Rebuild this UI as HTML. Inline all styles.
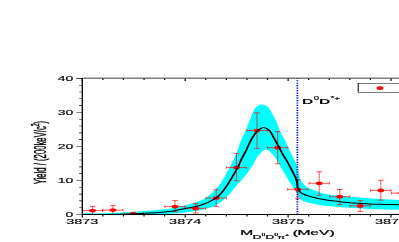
<!DOCTYPE html>
<html><head><meta charset="utf-8"><title>plot</title>
<style>
html,body{margin:0;padding:0;background:#fff;}
body{width:399px;height:242px;overflow:hidden;}
svg{display:block;will-change:transform;}
text{font-family:"Liberation Sans",sans-serif;fill:#000;}
</style></head><body>
<svg width="399" height="242" viewBox="0 0 399 242">
<rect width="399" height="242" fill="#fff"/>
<clipPath id="cp"><rect x="82.3" y="156.8" width="330" height="272.2"/></clipPath>
<g transform="scale(1,0.5)">
<g clip-path="url(#cp)">
<path d="M82.00,426.40 C86.67,426.30 101.50,426.23 110.00,425.80 C118.50,425.37 126.33,424.57 133.00,423.80 C139.67,423.03 143.83,422.37 150.00,421.20 C156.17,420.03 164.17,418.53 170.00,416.80 C175.83,415.07 180.00,413.35 185.00,410.80 C190.00,408.25 196.23,404.44 200.00,401.48 C203.77,398.52 205.08,396.62 207.60,393.04 C210.12,389.46 213.10,383.94 215.10,380.00 C217.10,376.06 218.37,372.67 219.60,369.40 C220.83,366.13 220.63,366.90 222.50,360.40 C224.37,353.90 228.28,340.40 230.80,330.40 C233.32,320.40 235.90,308.73 237.60,300.40 C239.30,292.07 239.68,286.73 241.00,280.40 C242.32,274.07 244.37,267.40 245.50,262.40 C246.63,257.40 246.92,254.87 247.80,250.40 C248.68,245.93 249.80,240.60 250.80,235.60 C251.80,230.60 252.77,224.27 253.80,220.40 C254.83,216.53 255.63,214.30 257.00,212.40 C258.37,210.50 260.33,209.00 262.00,209.00 C263.67,209.00 265.62,210.50 267.00,212.40 C268.38,214.30 269.07,216.53 270.30,220.40 C271.53,224.27 273.13,230.60 274.40,235.60 C275.67,240.60 276.97,245.93 277.90,250.40 C278.83,254.87 278.82,257.40 280.00,262.40 C281.18,267.40 283.42,274.07 285.00,280.40 C286.58,286.73 288.00,294.07 289.50,300.40 C291.00,306.73 292.78,313.40 294.00,318.40 C295.22,323.40 296.07,326.10 296.80,330.40 C297.53,334.70 297.77,339.37 298.40,344.20 C299.03,349.03 299.73,355.33 300.60,359.40 C301.47,363.47 302.43,366.03 303.60,368.60 C304.77,371.17 305.68,372.70 307.60,374.80 C309.52,376.90 312.60,379.24 315.10,381.17 C317.60,383.11 320.12,385.03 322.60,386.40 C325.08,387.77 327.27,388.63 330.00,389.40 C332.73,390.17 335.00,390.23 339.00,391.00 C343.00,391.77 349.00,393.10 354.00,394.00 C359.00,394.90 364.00,395.67 369.00,396.40 C374.00,397.13 378.83,397.80 384.00,398.40 C389.17,399.00 397.33,399.73 400.00,400.00 L400.00,419.60 C397.33,419.50 389.17,419.30 384.00,419.00 C378.83,418.70 374.00,418.27 369.00,417.80 C364.00,417.33 359.00,416.84 354.00,416.20 C349.00,415.56 343.00,414.54 339.00,413.96 C335.00,413.38 332.73,413.23 330.00,412.70 C327.27,412.17 325.08,411.62 322.60,410.80 C320.12,409.98 317.60,408.80 315.10,407.80 C312.60,406.80 309.60,405.80 307.60,404.80 C305.60,403.80 304.48,403.30 303.10,401.80 C301.72,400.30 300.43,398.57 299.30,395.80 C298.17,393.03 297.42,388.97 296.30,385.20 C295.18,381.43 293.85,377.20 292.60,373.20 C291.35,369.20 290.18,365.71 288.80,361.20 C287.42,356.69 285.80,351.21 284.30,346.14 C282.80,341.07 281.30,335.90 279.80,330.78 C278.30,325.66 276.77,319.65 275.30,315.42 C273.83,311.19 272.05,307.64 271.00,305.40 C269.95,303.16 269.87,303.07 269.00,302.00 C268.13,300.93 266.88,299.00 265.80,299.00 C264.72,299.00 263.47,300.50 262.50,302.00 C261.53,303.50 260.92,305.93 260.00,308.00 C259.08,310.07 258.22,310.67 257.00,314.40 C255.78,318.13 254.25,325.23 252.70,330.40 C251.15,335.57 249.58,340.36 247.70,345.40 C245.82,350.44 243.42,356.04 241.40,360.65 C239.38,365.26 237.50,368.66 235.60,373.06 C233.70,377.46 232.17,382.43 230.00,387.05 C227.83,391.67 225.10,396.74 222.60,400.80 C220.10,404.86 218.77,408.13 215.00,411.40 C211.23,414.67 205.00,418.13 200.00,420.40 C195.00,422.67 190.00,423.77 185.00,425.00 C180.00,426.23 175.83,427.13 170.00,427.80 C164.17,428.47 164.67,428.60 150.00,429.00 C135.33,429.40 93.33,430.00 82.00,430.20 Z" fill="#00ffff"/>
</g>
<path d="M297.4,156.8 V429.0" stroke="#0000ff" stroke-width="1.8" stroke-dasharray="2.4,2.54" stroke-dashoffset="1.4" fill="none"/>
<g clip-path="url(#cp)">
<g id="err" stroke="#ff0000" stroke-width="0.90" fill="none">
<path d="M82.35,421.20 H102.65 M92.50,413.00 V429.00 M82.35,418.50 v5.4 M102.65,418.50 v5.4 M89.70,413.00 h5.6 "/>
<path d="M102.75,420.20 H123.05 M112.90,411.20 V429.00 M102.75,417.50 v5.4 M123.05,417.50 v5.4 M110.10,411.20 h5.6 "/>
<path d="M123.25,427.80 H143.55 M133.40,424.60 V429.00 M123.25,425.10 v5.4 M143.55,425.10 v5.4 M130.60,424.60 h5.6 "/>
<path d="M164.85,413.20 H185.15 M175.00,401.20 V423.80 M164.85,410.50 v5.4 M185.15,410.50 v5.4 M172.20,401.20 h5.6 M172.20,423.80 h5.6"/>
<path d="M185.45,416.80 H205.75 M195.60,407.20 V426.20 M185.45,414.10 v5.4 M205.75,414.10 v5.4 M192.80,407.20 h5.6 M192.80,426.20 h5.6"/>
<path d="M206.05,396.00 H226.35 M216.20,379.60 V413.20 M206.05,393.30 v5.4 M226.35,393.30 v5.4 M213.40,379.60 h5.6 M213.40,413.20 h5.6"/>
<path d="M226.35,335.20 H246.65 M236.50,307.20 V361.60 M226.35,332.50 v5.4 M246.65,332.50 v5.4 M233.70,307.20 h5.6 M233.70,361.60 h5.6"/>
<path d="M246.85,261.00 H267.15 M257.00,225.60 V296.80 M246.85,258.30 v5.4 M267.15,258.30 v5.4 M254.20,225.60 h5.6 M254.20,296.80 h5.6"/>
<path d="M267.55,295.40 H287.85 M277.70,263.20 V327.60 M267.55,292.70 v5.4 M287.85,292.70 v5.4 M274.90,263.20 h5.6 M274.90,327.60 h5.6"/>
<path d="M287.65,378.60 H307.95 M297.80,359.80 V397.20 M287.65,375.90 v5.4 M307.95,375.90 v5.4 M295.00,359.80 h5.6 M295.00,397.20 h5.6"/>
<path d="M309.05,366.60 H329.35 M319.20,343.60 V390.60 M309.05,363.90 v5.4 M329.35,363.90 v5.4 M316.40,343.60 h5.6 M316.40,390.60 h5.6"/>
<path d="M329.60,393.40 H349.90 M339.75,379.00 V409.20 M329.60,390.70 v5.4 M349.90,390.70 v5.4 M336.95,379.00 h5.6 M336.95,409.20 h5.6"/>
<path d="M350.05,411.80 H370.35 M360.20,401.20 V422.80 M350.05,409.10 v5.4 M370.35,409.10 v5.4 M357.40,401.20 h5.6 M357.40,422.80 h5.6"/>
<path d="M370.65,380.80 H390.95 M380.80,360.60 V400.20 M370.65,378.10 v5.4 M390.95,378.10 v5.4 M378.00,360.60 h5.6 M378.00,400.20 h5.6"/>
<path d="M391.35,386.20 H411.65 M401.50,372.60 V400.60 M391.35,383.50 v5.4 M411.65,383.50 v5.4 M398.70,372.60 h5.6 M398.70,400.60 h5.6"/>
</g>
<g id="mk" fill="#ff0000">
<ellipse cx="92.50" cy="421.20" rx="3.4" ry="3.7"/>
<ellipse cx="112.90" cy="420.20" rx="3.4" ry="3.7"/>
<ellipse cx="133.40" cy="427.80" rx="3.4" ry="3.7"/>
<ellipse cx="175.00" cy="413.20" rx="3.4" ry="3.7"/>
<ellipse cx="195.60" cy="416.80" rx="3.4" ry="3.7"/>
<ellipse cx="216.20" cy="396.00" rx="3.4" ry="3.7"/>
<ellipse cx="236.50" cy="335.20" rx="3.4" ry="3.7"/>
<ellipse cx="257.00" cy="261.00" rx="3.4" ry="3.7"/>
<ellipse cx="277.70" cy="295.40" rx="3.4" ry="3.7"/>
<ellipse cx="297.80" cy="378.60" rx="3.4" ry="3.7"/>
<ellipse cx="319.20" cy="366.60" rx="3.4" ry="3.7"/>
<ellipse cx="339.75" cy="393.40" rx="3.4" ry="3.7"/>
<ellipse cx="360.20" cy="411.80" rx="3.4" ry="3.7"/>
<ellipse cx="380.80" cy="380.80" rx="3.4" ry="3.7"/>
<ellipse cx="401.50" cy="386.20" rx="3.4" ry="3.7"/>
</g>
<path d="M82.00,429.40 C86.67,429.33 101.50,429.27 110.00,429.00 C118.50,428.73 126.33,428.30 133.00,427.80 C139.67,427.30 143.83,426.80 150.00,426.00 C156.17,425.20 164.17,424.50 170.00,423.00 C175.83,421.50 180.00,419.00 185.00,417.00 C190.00,415.00 195.00,414.27 200.00,411.00 C205.00,407.73 211.30,401.90 215.00,397.40 C218.70,392.90 219.83,389.53 222.20,384.00 C224.57,378.47 226.63,372.30 229.20,364.19 C231.77,356.08 235.57,342.97 237.60,335.37 C239.63,327.77 239.95,324.41 241.40,318.58 C242.85,312.75 245.12,305.16 246.30,300.40 C247.48,295.64 247.38,294.50 248.50,290.00 C249.62,285.50 251.48,278.17 253.00,273.40 C254.52,268.63 255.83,264.50 257.60,261.40 C259.37,258.30 261.60,254.80 263.60,254.80 C265.60,254.80 267.87,257.80 269.60,261.40 C271.33,265.00 272.50,271.13 274.00,276.40 C275.50,281.67 277.10,287.47 278.60,293.00 C280.10,298.53 281.80,305.37 283.00,309.60 C284.20,313.83 284.51,313.93 285.80,318.40 C287.09,322.87 289.17,330.40 290.75,336.40 C292.33,342.40 294.26,349.87 295.30,354.40 C296.34,358.93 296.63,360.33 297.00,363.60 C297.37,366.87 297.42,372.27 297.50,374.00 L297.50,374.00 C297.92,375.63 299.00,381.40 300.00,383.80 C301.00,386.20 302.23,387.13 303.50,388.40 C304.77,389.67 305.67,390.20 307.60,391.40 C309.53,392.60 312.60,394.40 315.10,395.60 C317.60,396.80 320.12,397.70 322.60,398.60 C325.08,399.50 327.27,400.23 330.00,401.00 C332.73,401.77 335.00,402.33 339.00,403.20 C343.00,404.07 349.00,405.40 354.00,406.20 C359.00,407.00 364.00,407.57 369.00,408.00 C374.00,408.43 378.83,408.57 384.00,408.80 C389.17,409.03 397.33,409.30 400.00,409.40" fill="none" stroke="#000" stroke-width="2.0" stroke-linejoin="round"/>
</g>
<!-- frame -->
<path d="M82.3,429.0 V156.20000000000002" fill="none" stroke="#000" stroke-width="1.35"/>
<path d="M81.7,156.3 H400" fill="none" stroke="#000" stroke-width="1.5"/>
<path d="M82.3,429.0 H400" fill="none" stroke="#000" stroke-width="1.8"/>
<path d="M82.30,429.00 h-6.00 M82.30,415.39 h-3.20 M82.30,401.78 h-3.20 M82.30,388.17 h-3.20 M82.30,374.56 h-3.20 M82.30,360.95 h-6.00 M82.30,347.34 h-3.20 M82.30,333.73 h-3.20 M82.30,320.12 h-3.20 M82.30,306.51 h-3.20 M82.30,292.90 h-6.00 M82.30,279.29 h-3.20 M82.30,265.68 h-3.20 M82.30,252.07 h-3.20 M82.30,238.46 h-3.20 M82.30,224.85 h-6.00 M82.30,211.24 h-3.20 M82.30,197.63 h-3.20 M82.30,184.02 h-3.20 M82.30,170.41 h-3.20 M82.30,156.80 h-6.00 M82.30,429.00 v6.00 M82.30,156.80 v5.40 M102.88,429.00 v3.80 M102.88,156.80 v3.20 M123.46,429.00 v3.80 M123.46,156.80 v3.20 M144.04,429.00 v3.80 M144.04,156.80 v3.20 M164.62,429.00 v3.80 M164.62,156.80 v3.20 M185.20,429.00 v6.00 M185.20,156.80 v5.40 M205.78,429.00 v3.80 M205.78,156.80 v3.20 M226.36,429.00 v3.80 M226.36,156.80 v3.20 M246.94,429.00 v3.80 M246.94,156.80 v3.20 M267.52,429.00 v3.80 M267.52,156.80 v3.20 M288.10,429.00 v6.00 M288.10,156.80 v5.40 M308.68,429.00 v3.80 M308.68,156.80 v3.20 M329.26,429.00 v3.80 M329.26,156.80 v3.20 M349.84,429.00 v3.80 M349.84,156.80 v3.20 M370.42,429.00 v3.80 M370.42,156.80 v3.20 M391.00,429.00 v6.00 M391.00,156.80 v5.40" fill="none" stroke="#000" stroke-width="1.2"/>
<!-- legend -->
<rect x="358.2" y="166.6" width="60" height="18.4" fill="#fff" stroke="#000" stroke-width="1.0"/>
<ellipse cx="380" cy="176.2" rx="3.45" ry="3.8" fill="#ff0000"/>
</g>
<!-- tick labels -->
<g font-size="14" stroke="#000" stroke-width="0.3">
<text transform="translate(73.2,80.70) scale(1,0.48)" text-anchor="end">40</text>
<text transform="translate(73.2,114.73) scale(1,0.48)" text-anchor="end">30</text>
<text transform="translate(73.2,148.75) scale(1,0.48)" text-anchor="end">20</text>
<text transform="translate(73.2,182.78) scale(1,0.48)" text-anchor="end">10</text>
<text transform="translate(73.2,216.80) scale(1,0.48)" text-anchor="end">0</text>
<text transform="translate(82.30,224.2) scale(1.035,0.48)" text-anchor="middle">3873</text>
<text transform="translate(185.20,224.2) scale(1.035,0.48)" text-anchor="middle">3874</text>
<text transform="translate(288.10,224.2) scale(1.035,0.48)" text-anchor="middle">3875</text>
<text transform="translate(391.00,224.2) scale(1.035,0.48)" text-anchor="middle">3876</text>
</g>
<!-- x title -->
<text transform="translate(240.2,235.4) scale(1,0.45)" font-size="15.6" stroke="#000" stroke-width="0.45">M<tspan font-size="12" dy="7.4" dx="-0.3">D<tspan font-size="6.2" dy="-6.2" dx="0.3">0</tspan><tspan dy="6.2" dx="0.2">D</tspan><tspan font-size="6.2" dy="-6.2" dx="0.3">0</tspan><tspan dy="6.2" dx="-0.3" font-size="11">&#960;</tspan><tspan font-size="7.5" dy="-6" dx="-0.3">+</tspan></tspan><tspan dy="-1.4" dx="-0.8"> (<tspan dx="-0.6">MeV)</tspan></tspan></text>
<!-- y title -->
<text transform="translate(46,184.3) rotate(-90) scale(0.455,1)" font-size="17" stroke="#000" stroke-width="0.5">Yield / (200keV/c<tspan font-size="11" dy="-7">2</tspan><tspan dy="7">)</tspan></text>
<!-- D0 D*+ -->
<text transform="translate(302,103.6) scale(1,0.5)" font-size="15.7" font-weight="bold">D<tspan font-size="9.5" dy="-8" dx="0.5" font-weight="normal" stroke="#000" stroke-width="0.3">0</tspan><tspan dy="8" dx="0">D</tspan><tspan font-size="10" dy="-7" font-weight="normal" stroke="#000" stroke-width="0.3">*+</tspan></text>
</svg>
</body></html>
